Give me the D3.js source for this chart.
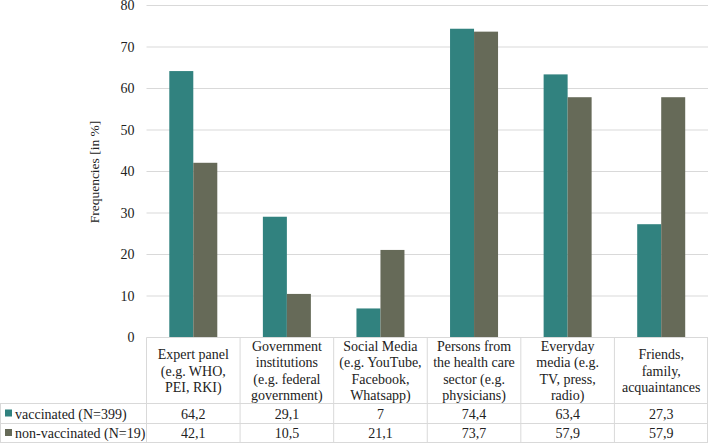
<!DOCTYPE html>
<html><head><meta charset="utf-8">
<script src="https://cdn.jsdelivr.net/npm/d3@7"></script>
<style>body{margin:0;background:#fff}svg{display:block}</style>
</head><body>
<svg id="c" width="708" height="445"></svg>
<script>
const categories = [
  ["Expert panel","(e.g. WHO,","PEI, RKI)"],
  ["Government","institutions","(e.g. federal","government)"],
  ["Social Media","(e.g. YouTube,","Facebook,","Whatsapp)"],
  ["Persons from","the health care","sector (e.g.","physicians)"],
  ["Everyday","media (e.g.","TV, press,","radio)"],
  ["Friends,","family,","acquaintances"]
];
const seriesNames = ["vaccinated (N=399)","non-vaccinated (N=19)"];
const vaccinated = [64.2,29.1,7,74.4,63.4,27.3];
const nonVaccinated = [42.1,10.5,21.1,73.7,57.9,57.9];
const valueLabels = [["64,2","29,1","7","74,4","63,4","27,3"],["42,1","10,5","21,1","73,7","57,9","57,9"]];
const yTicks = [0,10,20,30,40,50,60,70,80];
const colors = ["#31827f","#666a58"];

const svg = d3.select("#c");
const pLeft = 146.5, pRight = 708, pTop = 5.5, pBottom = 337.5;
const x = d3.scaleBand().domain(d3.range(categories.length)).range([pLeft,pRight]);
const y = d3.scaleLinear().domain([0,80]).range([pBottom,pTop]);
const series = [vaccinated, nonVaccinated];
const bw = 24;
const FF = '"Times New Roman"';

function txt(sel, size){ return sel.append("text").style("font-family",FF).style("font-size",size+"px").attr("fill","#222"); }

svg.append("g").selectAll("line").data(yTicks.filter(t=>t>0)).join("line")
  .attr("x1",pLeft).attr("x2",pRight).attr("y1",d=>y(d)).attr("y2",d=>y(d))
  .attr("stroke","#d9d9d9").attr("stroke-width",1.2);

// y tick labels drawn from scale
svg.append("g").selectAll("text").data(yTicks).join(enter=>txt(enter,14))
  .attr("x",pLeft-12).attr("y",d=>y(d)).attr("dy","0.35em").attr("text-anchor","end").text(d=>d);

series.forEach((s,si)=>{
  svg.append("g").selectAll("rect").data(s).join("rect")
    .attr("x",(d,i)=>x(i)+x.bandwidth()/2 - bw + si*bw)
    .attr("width",bw)
    .attr("y",d=>y(d)).attr("height",d=>pBottom-y(d))
    .attr("fill",colors[si]);
});

txt(svg,13.5).attr("transform","translate(99,172) rotate(-90)")
  .attr("text-anchor","middle").text("Frequencies [in %]");

const tcol = "#d9d9d9";
const rowY = [pBottom, 403.5, 423.5, 442.5];
const tg = svg.append("g");
tg.append("line").attr("x1",pLeft).attr("x2",pRight).attr("y1",rowY[0]).attr("y2",rowY[0]).attr("stroke",tcol);
[1,2,3].forEach(k=>tg.append("line").attr("x1",0).attr("x2",pRight).attr("y1",rowY[k]).attr("y2",rowY[k]).attr("stroke",tcol));
d3.range(categories.length+1).forEach(i=>{
  const xx = i<categories.length ? x(i) : pRight-0.5;
  tg.append("line").attr("x1",xx).attr("x2",xx).attr("y1",rowY[0]).attr("y2",rowY[3]).attr("stroke",tcol);
});
tg.append("line").attr("x1",0.5).attr("x2",0.5).attr("y1",rowY[1]).attr("y2",rowY[3]).attr("stroke",tcol);

categories.forEach((lines,i)=>{
  const cx = x(i)+x.bandwidth()/2;
  const lh = 16.5;
  const mid = (rowY[0]+rowY[1])/2;
  const y0 = mid - (lines.length-1)*lh/2 + 5;
  const t = txt(tg,14).attr("text-anchor","middle");
  lines.forEach((l,k)=>t.append("tspan").attr("x",cx).attr("y",y0+k*lh).text(l));
});
valueLabels.forEach((row,r)=>{
  const cy = (rowY[r+1]+rowY[r+2])/2 + 5;
  row.forEach((v,i)=>{
    txt(tg,14).attr("x",x(i)+x.bandwidth()/2).attr("y",cy).attr("text-anchor","middle").text(v);
  });
  tg.append("rect").attr("x",5).attr("y",cy-9).attr("width",7).attr("height",7).attr("fill",colors[r]);
  txt(tg,14).attr("x",15).attr("y",cy).text(seriesNames[r]);
});
</script>
</body></html>
